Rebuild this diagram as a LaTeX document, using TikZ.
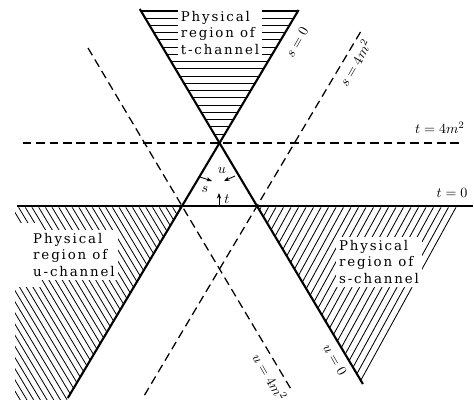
\documentclass[tikz,border=0pt]{standalone}
\usepackage{fontspec}
\newfontfamily\regionfont{DejaVu Serif}[LetterSpace=14]
\usetikzlibrary{arrows.meta}
\begin{document}
\begin{tikzpicture}[x=0.025cm,y=-0.025cm,every node/.style={font=\normalsize},
  border/.style={line width=1.5pt},
  bound/.style={line width=0.9pt,dash pattern=on 6pt off 3.5pt},
  hatch/.style={line width=0.6pt},
  regiontext/.style={fill=white,align=left,inner sep=2pt,font=\regionfont\fontsize{9.5}{12}\selectfont},
  arr/.style={line width=0.6pt,-{Stealth[length=4pt,width=3pt]}}]
\useasboundingbox (0,0) rectangle (474,400);
% corners of the triangle
\coordinate (A) at (219.5,143);
\coordinate (L) at (182,206);
\coordinate (R) at (257,206);
% end points of the lines
\coordinate (sTop) at (298.6,10);  \coordinate (sBot) at (67.8,398);
\coordinate (uTop) at (139.8,9);   \coordinate (uBot) at (362.9,384);
\coordinate (s4Top) at (360.5,32); \coordinate (s4Bot) at (142.8,398);
\coordinate (u4Top) at (88,48);    \coordinate (u4Bot) at (292.7,392);
\coordinate (t0L) at (17,206);     \coordinate (t0R) at (473,206);
\coordinate (t4L) at (23,143);     \coordinate (t4R) at (463,143);
% t-channel hatching
\begin{scope}
\clip (uTop) -- (A) -- (sTop) -- cycle;
\foreach \k in {0,...,18} \draw[hatch,line width=0.75pt] (100,{11+7.24*\k}) -- (340,{11+7.24*\k});
\end{scope}
% u-channel hatching
\begin{scope}
\clip (15,207.5) -- (182,207.5) -- (67,400) -- (15,400) -- cycle;
\foreach \x in {-160,-153.3,...,200} \draw[hatch] (\x,200) -- ({\x+0.6*210},410);
\end{scope}
% s-channel hatching
\begin{scope}
\clip (258,207.5) -- (461,207.5) -- (363,384) -- cycle;
\foreach \x in {250,257.5,...,600} \draw[hatch] (\x,200) -- ({\x-0.55*200},400);
\end{scope}
% texts of the regions
\node[regiontext] (tText) at (220,33) {Physical\\region of\\t-channel};
\fill[white] (15,223) rectangle (40,287);
\node[regiontext] (uText) at (74,255) {Physical\\region of\\u-channel};
\node[regiontext] (sText) at (379,262) {Physical\\region of\\s-channel};
% boundaries s=0, u=0, t=0
\draw[border] (sTop) -- (sBot);
\draw[border] (uTop) -- (uBot);
\draw[border] (t0L) -- (t0R);
% thresholds
\draw[bound] (t4L) -- (t4R);
\draw[bound] (s4Top) -- (s4Bot);
\draw[bound] (u4Top) -- (u4Bot);
% labels of the lines
\node[rotate=60] (sZero) at (297,42) {$s=0$};
\node[rotate=60] (sFour) at (355,63) {$s=4m^2$};
\node[rotate=-60] (uZero) at (335,360) {$u=0$};
\node[rotate=-60] (uFour) at (270,377) {$u=4m^2$};
\node (tZero) at (452,193) {$t=0$};
\node (tFour) at (440,128) {$t=4m^2$};
% directions inside the triangle
\coordinate (sA) at (200,177); \coordinate (sB) at (212,181);
\coordinate (uA) at (235,176); \coordinate (uB) at (224,181);
\coordinate (tA) at (219,205); \coordinate (tB) at (219,193);
\draw[arr] (sA) -- (sB);
\draw[arr] (uA) -- (uB);
\draw[arr] (tA) -- (tB);
\node (sName) at (205,189) {$s$};
\node (uName) at (222,170) {$u$};
\node (tName) at (227,199) {$t$};
\end{tikzpicture}
\end{document}
